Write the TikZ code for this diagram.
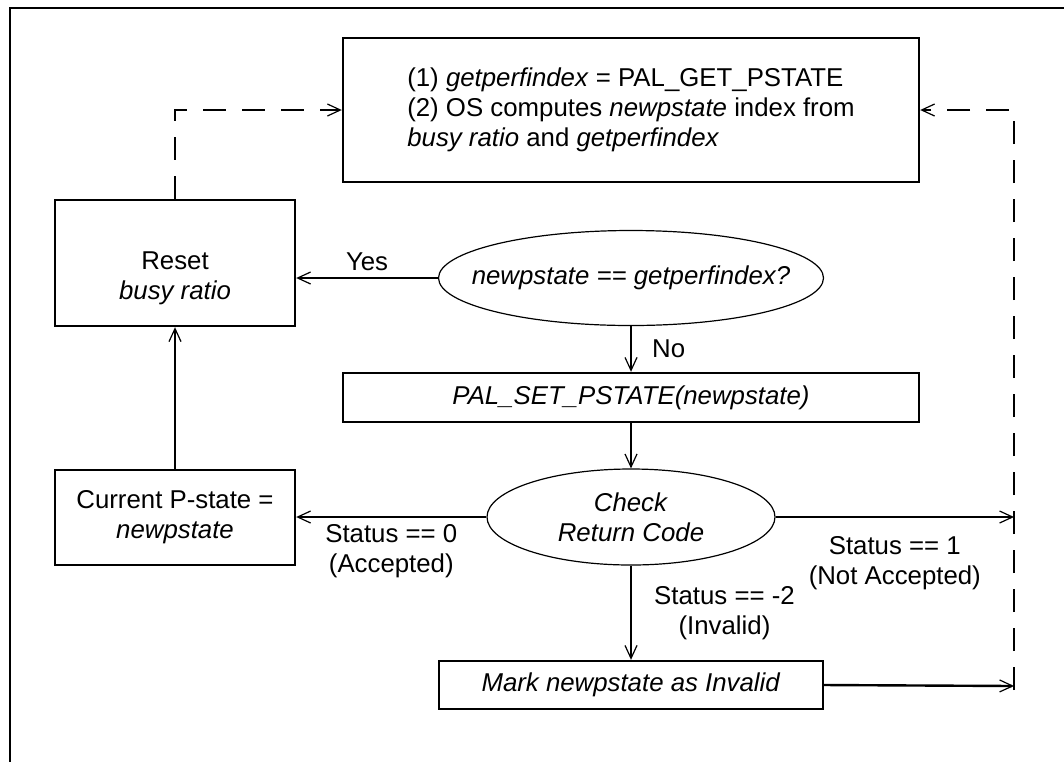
\documentclass[tikz,border=0pt]{standalone}
\usepackage{fontspec}
\setmainfont{Liberation Sans}
\usetikzlibrary{arrows.meta,shapes.geometric}
\begin{document}
\begin{tikzpicture}[x=0.5pt,y=0.5pt,yscale=-1,xscale=1,
    every node/.style={font=\fontsize{12.9}{15}\selectfont},
    procbox/.style={draw,line width=1.2pt,inner sep=0pt,align=center},
    decision/.style={draw,ellipse,line width=0.6pt,inner sep=0pt,align=center},
    flow/.style={line width=1.2pt,-{Straight Barb[length=6.5pt,width=6pt,line width=0.6pt]}},
    loopback/.style={flow,dash pattern={on 11.5pt off 8pt}},
    lbl/.style={align=center,inner sep=3pt}]
\useasboundingbox (0,0) rectangle (1064,762);
%Frame
\draw [line width=1.35pt] (1064,8) -- (10,8) -- (10,762) ;

%Shape: Rectangle
\node [procbox,align=left,minimum width=288pt,minimum height=72pt] (calc) at (631,110) {(1) \textit{getperfindex} = PAL\_GET\_PSTATE\\(2) OS computes \textit{newpstate} index from\\\textit{busy ratio} and \textit{getperfindex}};
%Shape: Rectangle
\node [procbox,minimum width=120pt,minimum height=63pt] (reset) at (175,263) {};
% Text Node
\node [align=center] (resettext) at (175,278) {Reset\\\textit{busy ratio}};
%Shape: Ellipse
\node [decision,inner xsep=-14.4pt,minimum width=192.5pt,minimum height=47.5pt] (same) at (631,278) {\textit{newpstate == getperfindex?}};
%Shape: Rectangle
\node [procbox,minimum width=288pt,minimum height=24.5pt] (setp) at (631,397.5) {\textit{PAL\_SET\_PSTATE(newpstate)}};
%Shape: Ellipse
\node [decision,minimum width=144pt,minimum height=48pt] (check) at (631,517) {\textit{Check}\\\textit{Return Code}};
%Shape: Rectangle
\node [procbox,minimum width=120pt,minimum height=47.5pt] (curr) at (175,517.5) {Current P-state =\\\textit{newpstate}};
%Shape: Rectangle
\node [procbox,minimum width=192pt,minimum height=24pt] (inval) at (631,685) {\textit{Mark newpstate as Invalid}};

\coordinate (retry) at (1014,517);
\coordinate (retrybot) at (1014,686);

%Straight Lines
\draw [flow] (same.west) -- node [lbl,above] {Yes} (same.west -| reset.east) ;
\draw [flow] (same.south) -- node [lbl,right,xshift=7pt] {No} (setp.north) ;
\draw [flow] (setp.south) -- (check.north) ;
\draw [flow] (check.west) -- node [lbl,below] {Status == 0\\(Accepted)} (check.west -| curr.east) ;
\draw [flow] (check.east) -- node [lbl,below,inner ysep=9pt] {Status == 1\\(Not Accepted)} (retry) ;
\draw [flow] (check.south) -- node [lbl,right,xshift=8pt] {Status == -2\\(Invalid)} (inval.north) ;
\draw [flow] (inval.east) -- (retrybot) ;
\draw [flow] (curr.north) -- (reset.south) ;
%Dashed Lines
\draw [loopback] (reset.north) |- (calc.west) ;
\draw [loopback] ([yshift=2pt]retrybot) |- (calc.east) ;
\end{tikzpicture}
\end{document}
